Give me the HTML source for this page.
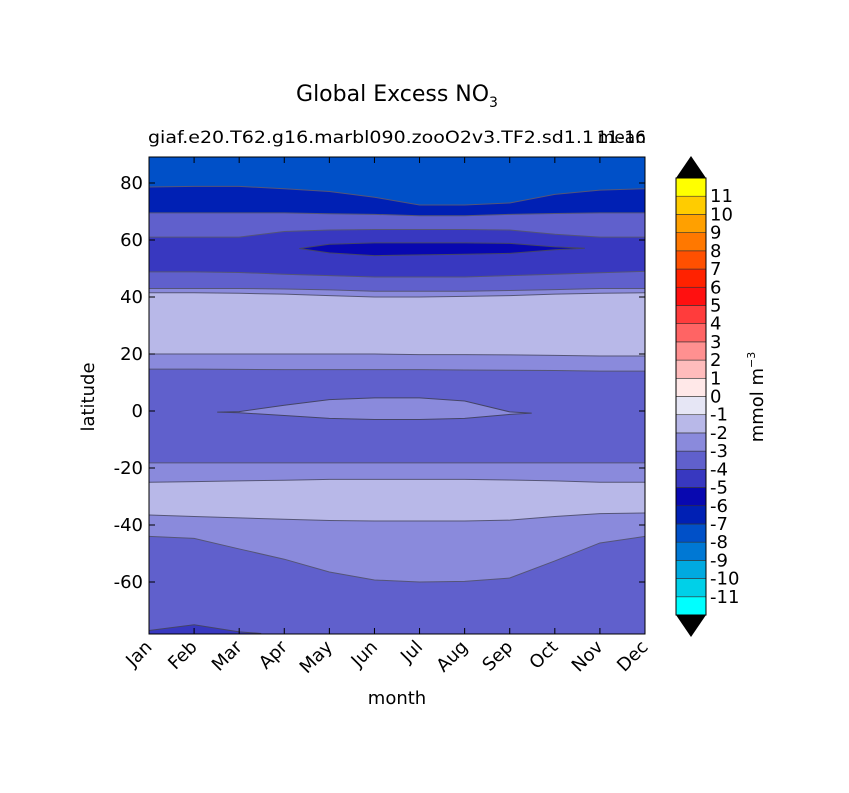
<!DOCTYPE html>
<html><head><meta charset="utf-8"><style>
body{margin:0;background:#fff;}
svg text{font-family:"DejaVu Sans","Liberation Sans",sans-serif;fill:#000;}
</style></head><body>
<svg id="chart" width="849" height="788" viewBox="0 0 849 788" xmlns="http://www.w3.org/2000/svg">
<rect width="849" height="788" fill="#fff"/>
<text x="397" y="101" font-size="22" text-anchor="middle">Global Excess NO<tspan font-size="14" dy="6">3</tspan></text>
<text x="148" y="143" font-size="17" textLength="446" lengthAdjust="spacingAndGlyphs">giaf.e20.T62.g16.marbl090.zooO2v3.TF2.sd1.1</text>
<text x="646" y="143" font-size="17" text-anchor="end">11-16</text>
<text x="646" y="143" font-size="17" text-anchor="end">mean</text>
<g id="plot"></g>
<g id="axes"></g>
<g id="cbar"></g>
<text x="397" y="704" font-size="18" text-anchor="middle">month</text>
<text x="94" y="397" font-size="18" text-anchor="middle" transform="rotate(-90 94 397)">latitude</text>
<text x="763" y="397" font-size="18" text-anchor="middle" transform="rotate(-90 763 397)">mmol m<tspan font-size="11" dy="-8">−3</tspan></text>
</svg>
<script>
const months=["Jan","Feb","Mar","Apr","May","Jun","Jul","Aug","Sep","Oct","Nov","Dec"];
const yTicks=[80,60,40,20,0,-20,-40,-60];
const cbLevels=[-12,-11,-10,-9,-8,-7,-6,-5,-4,-3,-2,-1,0,1,2,3,4,5,6,7,8,9,10,11,12];
const cbColors=["#00ffff","#00d0e8","#00aae0","#0078d4","#0050c8","#0020b4","#0808b0","#3838c0","#6060cc","#8a8adc","#b8b8e8","#e6e6f5","#ffe8e8","#ffbcbc","#ff9090","#ff6464","#ff3c3c","#ff1010","#ff2200","#ff5000","#ff7800","#ffa000","#ffcc00","#ffff00"];
const topLevel=-8;
const b1=[78.6,78.8,78.8,78,77,75,72.3,72.3,73,76,77.5,78];
const b2=[69.5,69.5,69.5,69.5,69.2,69,68.5,68.5,69,69.3,69.5,69.5];
const b3=[61,61,61,63,63.5,63.7,63.7,63.7,63.5,62,61,61];
const b4=[48.8,48.8,48.6,48,47.5,47,47,47,47.5,48,48.5,49];
const b5=[43,43,43,42.8,42.5,42,42,42,42.3,42.6,43,43];
const b6=[41.5,41.5,41.3,41,40.5,40,40,40.2,40.5,41,41.3,41.5];
const b7=[20,20,20,20,20,20,19.8,19.8,19.7,19.5,19.3,19.3];
const b8=[14.7,14.7,14.6,14.5,14.5,14.5,14.5,14.4,14.3,14.2,14,14];
const b9=[-18.2,-18.2,-18.2,-18.2,-18.2,-18.2,-18.2,-18.2,-18.2,-18.2,-18.2,-18.2];
const b10=[-25,-24.8,-24.5,-24.3,-24,-24,-24,-24,-24.2,-24.5,-25,-25];
const b11=[-36.5,-37,-37.5,-38,-38.4,-38.6,-38.6,-38.6,-38.3,-37,-36,-35.8];
const b12=[-44,-44.7,-48.4,-52,-56.5,-59.3,-60,-59.8,-58.6,-52.6,-46.3,-44];
const boundaries=[b1,b2,b3,b4,b5,b6,b7,b8,b9,b10,b11,b12];
const belowLevels=[-7,-4,-5,-4,-3,-2,-3,-4,-3,-2,-3,-4];
const blob6Top=[null,null,null,null,58.5,59,59,59,58.8,57.6,null,null];
const blob6Bot=[null,null,null,null,55.5,54.5,54.8,55,55.3,56.6,null,null];
const blob3Top=[null,null,-0.2,2,4,4.6,4.6,3.5,-0.3,null,null,null];
const blob3Bot=[null,null,-0.6,-1.6,-2.6,-3,-3,-2.6,-1.2,null,null,null];
const blob5Top=[-77,-75,-77.5,null,null,null,null,null,null,null,null,null];
const blob5Bot=[-78.6,-78.6,-78.6,null,null,null,null,null,null,null,null,null];

const X0=149,X1=645,Y0=157,Y1=634;
const xS=m=>X0+(X1-X0)*m/11;
const yS=l=>411-(l)*(411-183)/80;
const colorOf=lv=>cbColors[cbLevels.indexOf(lv)];
const NS="http://www.w3.org/2000/svg";
function mk(tag,attrs,parent){const e=document.createElementNS(NS,tag);for(const k in attrs)e.setAttribute(k,attrs[k]);parent.appendChild(e);return e;}
const plot=document.getElementById('plot');
const defs=mk('defs',{},plot);
const cp=mk('clipPath',{id:'clip'},defs);
mk('rect',{x:X0,y:Y0,width:X1-X0,height:Y1-Y0},cp);
const g=mk('g',{'clip-path':'url(#clip)'},plot);
let bg=mk('rect',{x:X0,y:Y0,width:X1-X0,height:Y1-Y0,fill:colorOf(topLevel)},g);


boundaries.forEach((b,i)=>{
  let d='M'+xS(0)+','+yS(b[0]);
  for(let m=1;m<12;m++)d+=' L'+xS(m)+','+yS(b[m]);
  const fill=d+' L'+X1+','+(Y1+5)+' L'+X0+','+(Y1+5)+'Z';
  const p=mk('path',{d:fill,fill:colorOf(belowLevels[i]),stroke:'none'},g);
  
  
  const l=mk('path',{d:d,fill:'none',stroke:'#555577','stroke-width':1},g);
  
  
});
function blob(top,bot,lv,name,ext){
  const idx=[];for(let m=0;m<12;m++)if(top[m]!==null)idx.push(m);
  let d='';
  idx.forEach((m,k)=>{d+=(k?' L':'M')+xS(m)+','+yS(top[m]);});
  const last=idx[idx.length-1],first=idx[0];
  if(last<11)d+=' L'+(xS(last)+ext)+','+yS((top[last]+bot[last])/2);
  for(let k=idx.length-1;k>=0;k--)d+=' L'+xS(idx[k])+','+yS(bot[idx[k]]);
  if(first>0)d+=' L'+(xS(first)-ext)+','+yS((top[first]+bot[first])/2);
  d+='Z';
  const p=mk('path',{d:d,fill:colorOf(lv),stroke:'#444466','stroke-width':1},g);
  
  
}
blob(blob6Top,blob6Bot,-6,'blob-minus6',30);
blob(blob3Top,blob3Bot,-3,'blob-minus3-equator',22);
blob(blob5Top,blob5Bot,-5,'blob-minus5-south',22);
const ax=document.getElementById('axes');
mk('rect',{x:X0,y:Y0,width:X1-X0,height:Y1-Y0,fill:'none',stroke:'#000','stroke-width':1},ax);
months.forEach((m,i)=>{
  const x=xS(i);
  mk('line',{x1:x,x2:x,y1:Y1,y2:Y1-6,stroke:'#000'},ax);
  mk('line',{x1:x,x2:x,y1:Y0,y2:Y0+6,stroke:'#000'},ax);
  const t=mk('text',{x:x+4,y:Y1+14,'font-size':18,'text-anchor':'end',transform:`rotate(-45 ${x+4} ${Y1+14})`},ax);
  t.textContent=m;
  
  
});
yTicks.forEach(v=>{
  const y=yS(v);
  mk('line',{x1:X0,x2:X0+6,y1:y,y2:y,stroke:'#000'},ax);
  mk('line',{x1:X1,x2:X1-6,y1:y,y2:y,stroke:'#000'},ax);
  const t=mk('text',{x:X0-6,y:y+6,'font-size':18,'text-anchor':'end'},ax);
  t.textContent=v;
  
  
});
const cb=document.getElementById('cbar');
const CX=676,CW=30,CT=178,CB=615;
const step=(CB-CT)/cbColors.length;
cbColors.forEach((c,i)=>{
  const y=CB-(i+1)*step;
  const r=mk('rect',{x:CX,y:y,width:CW,height:step,fill:c,stroke:'#333','stroke-width':0.6},cb);
  
  
});
mk('polygon',{points:`${CX},${CT} ${CX+CW},${CT} ${CX+CW/2},${CT-22}`,fill:'#000'},cb);
mk('polygon',{points:`${CX},${CB} ${CX+CW},${CB} ${CX+CW/2},${CB+22}`,fill:'#000'},cb);
mk('rect',{x:CX,y:CT,width:CW,height:CB-CT,fill:'none',stroke:'#000'},cb);
cbLevels.slice(1,-1).forEach((v,i)=>{
  const y=CB-(i+1)*step;
  const t=mk('text',{x:CX+CW+4,y:y+6,'font-size':18},cb);
  t.textContent=v;
  
  
});
</script>
</body></html>
